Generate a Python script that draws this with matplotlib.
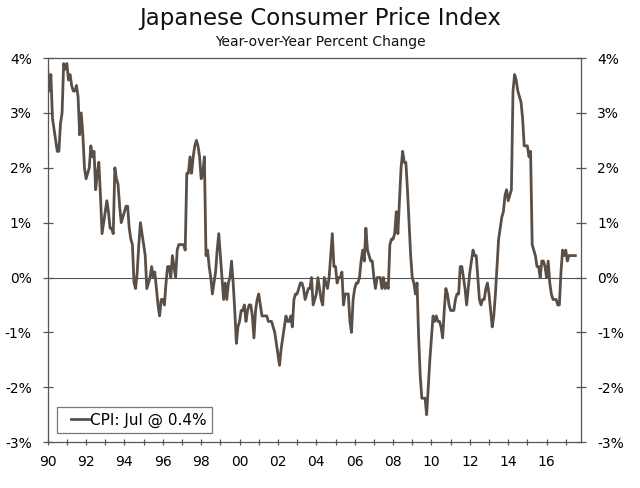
import numpy as np
import matplotlib
matplotlib.use("Agg")
import matplotlib.pyplot as plt

# monthly y/y % change, Jan 1990 - Jul 2017
start_year = 1990
cpi_1990s = [
    3.8, 3.4, 3.7, 2.9, 2.7, 2.5, 2.3, 2.3, 2.8, 3.0, 3.9, 3.8,   # 1990
    3.9, 3.6, 3.7, 3.5, 3.4, 3.4, 3.5, 3.3, 2.6, 3.0, 2.6, 2.0,   # 1991
    1.8, 1.9, 2.0, 2.4, 2.2, 2.3, 1.6, 1.9, 2.1, 1.5, 0.8, 1.0,   # 1992
    1.2, 1.4, 1.2, 0.9, 0.9, 0.8, 2.0, 1.8, 1.7, 1.3, 1.0, 1.1,   # 1993
    1.2, 1.3, 1.3, 0.9, 0.7, 0.6, -0.1, -0.2, 0.1, 0.6, 1.0, 0.8,  # 1994
    0.6, 0.4, -0.2, -0.1, 0.0, 0.2, 0.0, 0.1, -0.2, -0.5, -0.7, -0.4,  # 1995
    -0.4, -0.5, -0.1, 0.2, 0.2, 0.0, 0.4, 0.2, 0.0, 0.5, 0.6, 0.6,  # 1996
    0.6, 0.6, 0.5, 1.9, 1.9, 2.2, 1.9, 2.2, 2.4, 2.5, 2.4, 2.2,   # 1997
    1.8, 1.9, 2.2, 0.4, 0.5, 0.2, 0.0, -0.3, -0.1, 0.1, 0.5, 0.8,  # 1998
    0.4, 0.0, -0.4, -0.1, -0.4, -0.1, 0.0, 0.3, -0.1, -0.6, -1.2, -0.9,  # 1999
]
cpi_2000s = [
    -0.8, -0.6, -0.6, -0.5, -0.8, -0.6, -0.5, -0.5, -0.7, -1.1, -0.6, -0.4,  # 2000
    -0.3, -0.5, -0.7, -0.7, -0.7, -0.7, -0.8, -0.8, -0.8, -0.9, -1.0, -1.2,  # 2001
    -1.4, -1.6, -1.3, -1.1, -0.9, -0.7, -0.8, -0.8, -0.7, -0.9, -0.4, -0.3,  # 2002
    -0.3, -0.2, -0.1, -0.1, -0.2, -0.4, -0.3, -0.2, -0.2, 0.0, -0.5, -0.4,  # 2003
    -0.3, 0.0, -0.2, -0.4, -0.5, 0.0, -0.1, -0.2, 0.0, 0.4, 0.8, 0.2,  # 2004
    0.2, -0.1, 0.0, 0.0, 0.1, -0.5, -0.3, -0.3, -0.3, -0.8, -1.0, -0.4,  # 2005
    -0.2, -0.1, -0.1, 0.0, 0.3, 0.5, 0.3, 0.9, 0.5, 0.4, 0.3, 0.3,  # 2006
    0.0, -0.2, 0.0, 0.0, 0.0, -0.2, 0.0, -0.2, -0.1, -0.2, 0.6, 0.7,  # 2007
    0.7, 0.8, 1.2, 0.8, 1.4, 2.0, 2.3, 2.1, 2.1, 1.6, 1.0, 0.4,  # 2008
    0.0, -0.1, -0.3, -0.1, -1.1, -1.8, -2.2, -2.2, -2.2, -2.5, -2.0, -1.5,  # 2009
]
cpi_2010s = [
    -1.1, -0.7, -0.8, -0.7, -0.8, -0.8, -0.9, -1.1, -0.6, -0.2, -0.3, -0.5,  # 2010
    -0.6, -0.6, -0.6, -0.4, -0.3, -0.3, 0.2, 0.2, 0.0, -0.2, -0.5, -0.2,  # 2011
    0.1, 0.3, 0.5, 0.4, 0.4, 0.0, -0.4, -0.5, -0.4, -0.4, -0.2, -0.1,  # 2012
    -0.3, -0.6, -0.9, -0.7, -0.3, 0.2, 0.7, 0.9, 1.1, 1.2, 1.5, 1.6,  # 2013
    1.4, 1.5, 1.6, 3.4, 3.7, 3.6, 3.4, 3.3, 3.2, 2.9, 2.4, 2.4,  # 2014
    2.4, 2.2, 2.3, 0.6, 0.5, 0.4, 0.2, 0.2, 0.0, 0.3, 0.3, 0.2,  # 2015
    0.0, 0.3, -0.1, -0.3, -0.4, -0.4, -0.4, -0.5, -0.5, 0.1, 0.5, 0.4,  # 2016
    0.5, 0.3, 0.4, 0.4, 0.4, 0.4, 0.4,  # 2017 (through Jul)
]

y_ticks = [-3, -2, -1, 0, 1, 2, 3, 4]
label_years = list(range(1990, 2017, 2))
legend_text = "CPI: Jul @ 0.4%"

cpi = np.array(cpi_1990s + cpi_2000s + cpi_2010s)
dates = start_year + np.arange(len(cpi)) / 12.0

line_col = "#5a4f46"
axis_col = "#555555"

fig = plt.figure(figsize=(6.4, 4.88), dpi=100)
ax = fig.add_axes([0.0745, 0.094, 0.8335, 0.787])

ax.axhline(0, color=axis_col, lw=0.8, zorder=1)
ax.plot(dates, cpi, color=line_col, lw=2.0, label=legend_text, zorder=2)

ax.set_xlim(1990, 2017.8)
ax.set_ylim(-3, 4)

ax.set_yticks(y_ticks)
ax.set_yticklabels([f"{v}%" for v in y_ticks])
ax.set_xticks(range(1990, 2018))
ax.set_xticklabels([f"{y % 100:02d}" if y in label_years else "" for y in range(1990, 2018)])

for s in ax.spines.values():
    s.set_color(axis_col)
    s.set_linewidth(0.9)

ax.tick_params(axis="y", which="both", direction="inout", length=7, width=0.9,
               color=axis_col, left=True, right=True, labelleft=True,
               labelright=True, labelsize=10, pad=8)
ax.tick_params(axis="x", direction="inout", length=5, width=0.9,
               color=axis_col, labelsize=10, pad=7)

leg = ax.legend(loc="lower left", bbox_to_anchor=(0.017, 0.023), borderaxespad=0,
                fontsize=11, handlelength=1.75, handletextpad=0.05,
                fancybox=False, framealpha=1, borderpad=0.35)
leg.get_frame().set_edgecolor("#777777")
leg.get_frame().set_linewidth(0.9)

# pull the legend line in from the left so it sits right against the text
for hl in leg.get_lines():
    xd = np.asarray(hl.get_xdata(), dtype=float)
    hl.set_xdata(np.linspace(xd[0] + 0.34 * (xd[-1] - xd[0]), xd[-1], len(xd)))

fig.text(0.5, 0.963, "Japanese Consumer Price Index", ha="center", va="center",
         fontsize=16.5, color="#111111")
fig.text(0.5, 0.913, "Year-over-Year Percent Change", ha="center", va="center",
         fontsize=10, color="#111111")

fig.savefig("out.png", dpi=100)
